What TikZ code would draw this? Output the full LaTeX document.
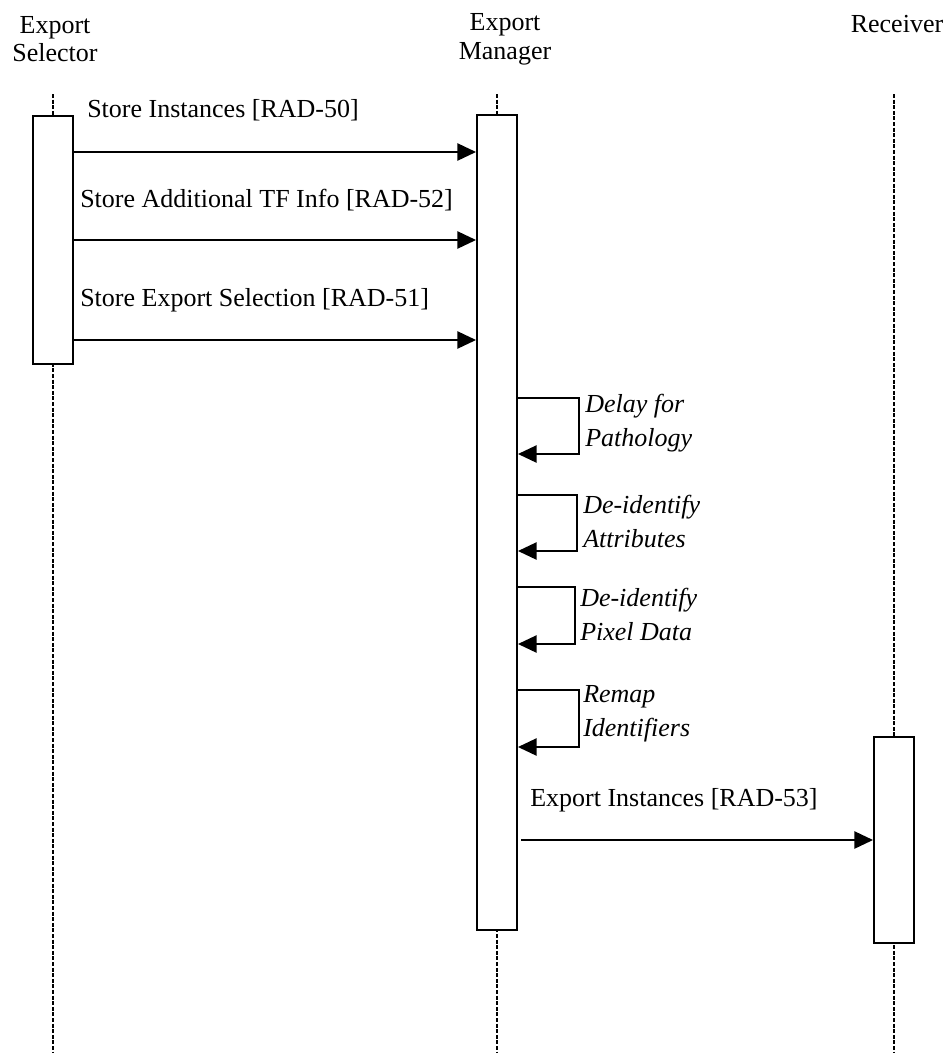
\documentclass[tikz,border=0pt]{standalone}
\usepackage{fontspec}
\setmainfont{Liberation Serif}
\usetikzlibrary{arrows.meta}

\begin{document}
\begin{tikzpicture}[x=0.75pt, y=-0.75pt,
  lifeline/.style={line width=1.8pt, dash pattern=on 3pt off 1.2pt},
  actbox/.style={draw, fill=white, line width=1.5pt, minimum width=30pt, inner sep=0pt},
  msg/.style={line width=1.1pt, -{Triangle[length=14pt, width=13pt]}},
  msglabel/.style={anchor=west, inner sep=0pt, font=\fontsize{19.5}{23}\selectfont},
  note/.style={anchor=west, align=left, inner sep=0pt, font=\fontsize{19.5}{25.5}\selectfont\itshape},
  head/.style={align=center, inner sep=0pt, font=\fontsize{19.5}{21.5}\selectfont}]
\useasboundingbox (0,0) rectangle (948,1057);
\coordinate (selTop) at (53,94);
\coordinate (selBot) at (53,1052);
\coordinate (mgrTop) at (497,94);
\coordinate (mgrBot) at (497,1052);
\coordinate (rcvTop) at (894,94);
\coordinate (rcvBot) at (894,1052);
\node[head] (selHead) at (55,39) {Export\\Selector};
\node[head] (mgrHead) at (505,39) {Export\\Manager};
\node[head] (rcvHead) at (897,24) {Receiver};
\draw[lifeline] (selTop) -- (selBot);
\draw[lifeline] (mgrTop) -- (mgrBot);
\draw[lifeline] (rcvTop) -- (rcvBot);
\node[actbox, minimum height=186pt] (sel) at (53,240) {};
\node[actbox, minimum height=611.25pt] (mgr) at (497,522.5) {};
\node[actbox, minimum height=154.5pt] (rcv) at (894,840) {};
\coordinate (m1) at (0,152);
\coordinate (m2) at (0,240);
\coordinate (m3) at (0,340);
\draw[msg] (m1 -| sel.east) -- (m1 -| mgr.west);
\draw[msg] (m2 -| sel.east) -- (m2 -| mgr.west);
\draw[msg] (m3 -| sel.east) -- (m3 -| mgr.west);
\node[msglabel] (l1) at (87,110) {Store Instances [RAD-50]};
\node[msglabel] (l2) at (80,200) {Store Additional TF Info [RAD-52]};
\node[msglabel] (l3) at (80,300) {Store Export Selection [RAD-51]};
\coordinate (d1a) at (579,398);
\coordinate (d1b) at (579,454);
\coordinate (d2a) at (577,495);
\coordinate (d2b) at (577,551);
\coordinate (d3a) at (575,587);
\coordinate (d3b) at (575,644);
\coordinate (d4a) at (579,690);
\coordinate (d4b) at (579,747);
\draw[msg] (d1a -| mgr.east) -- (d1a) -- (d1b) -- (d1b -| mgr.east);
\draw[msg] (d2a -| mgr.east) -- (d2a) -- (d2b) -- (d2b -| mgr.east);
\draw[msg] (d3a -| mgr.east) -- (d3a) -- (d3b) -- (d3b -| mgr.east);
\draw[msg] (d4a -| mgr.east) -- (d4a) -- (d4b) -- (d4b -| mgr.east);
\node[note] (n1) at (585,423) {Delay for\\Pathology};
\node[note] (n2) at (583,521) {De-identify\\Attributes};
\node[note] (n3) at (580,614) {De-identify\\Pixel Data};
\node[note] (n4) at (583,714) {Remap\\Identifiers};
\coordinate (m4) at (521,840);
\draw[msg] (m4) -- (m4 -| rcv.west);
\node[msglabel] (l4) at (530,800) {Export Instances [RAD-53]};
\end{tikzpicture}
\end{document}
